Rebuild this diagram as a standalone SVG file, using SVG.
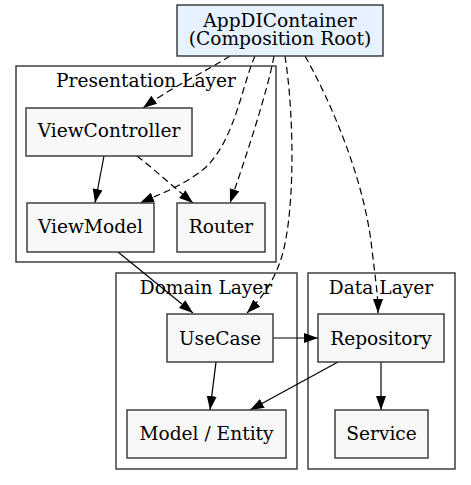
<svg xmlns="http://www.w3.org/2000/svg" width="471" height="485" viewBox="0 0 471 485">
<style>
.cl{fill:#ffffff;stroke:#333333;stroke-width:1.4}
.nd{fill:#f8f8f8;stroke:#333333;stroke-width:1.4}
.root{fill:#e6f2ff;stroke:#333333;stroke-width:1.4}
text{font-family:"DejaVu Serif","Liberation Serif",serif;font-size:18.6px;fill:#000;text-anchor:middle}
.e{fill:none;stroke:#000;stroke-width:1.2}
.d{stroke-dasharray:7,4}
</style>
<defs>
<marker id="ah" markerUnits="userSpaceOnUse" markerWidth="15" markerHeight="11" refX="14" refY="5" orient="auto">
<path d="M0,0 L14,5 L0,10 z" fill="#000"/>
</marker>
</defs>
<g id="cluster-presentation">
<rect class="cl" x="16" y="66" width="260" height="196"/>
<text x="146" y="87">Presentation Layer</text>
</g>
<g id="cluster-domain">
<rect class="cl" x="116" y="273" width="181" height="196"/>
<text x="206" y="294">Domain Layer</text>
</g>
<g id="cluster-data">
<rect class="cl" x="308" y="273" width="147" height="196"/>
<text x="381" y="294">Data Layer</text>
</g>
<g id="connectors">
<path class="e d" marker-end="url(#ah)" d="M230,56 C205,72 170,88 143,108"/>
<path class="e d" marker-end="url(#ah)" d="M255,56 C242,85 235,140 205,168 C185,185 160,194 140,203"/>
<path class="e d" marker-end="url(#ah)" d="M274,56 C268,90 245,160 230,203"/>
<path class="e d" marker-end="url(#ah)" d="M285,56 C295,120 295,220 280,262 C273,282 262,298 247,313"/>
<path class="e d" marker-end="url(#ah)" d="M305,56 C330,100 365,180 372,250 C375,275 378,295 378,313"/>
<path class="e" marker-end="url(#ah)" d="M104,156 L95,203"/>
<path class="e d" marker-end="url(#ah)" d="M137,156 C155,170 175,188 193,203"/>
<path class="e" marker-end="url(#ah)" d="M118,252 L193,313"/>
<path class="e" marker-end="url(#ah)" d="M273,338 L318,338"/>
<path class="e" marker-end="url(#ah)" d="M216,362 L210,410"/>
<path class="e" marker-end="url(#ah)" d="M338,362 L250,410"/>
<path class="e" marker-end="url(#ah)" d="M381,362 L381,410"/>
</g>
<g id="AppDIContainer">
<rect class="root" x="177" y="5" width="206" height="51"/>
<text x="280" y="26.5">AppDIContainer</text>
<text x="280" y="44.5">(Composition Root)</text>
</g>
<g id="ViewController">
<rect class="nd" x="26" y="108" width="166" height="48"/>
<text x="109" y="137">ViewController</text>
</g>
<g id="ViewModel">
<rect class="nd" x="27" y="203" width="127" height="49"/>
<text x="90.5" y="233">ViewModel</text>
</g>
<g id="Router">
<rect class="nd" x="177" y="203" width="88" height="49"/>
<text x="221" y="233">Router</text>
</g>
<g id="UseCase">
<rect class="nd" x="167" y="314" width="106" height="48"/>
<text x="220" y="345">UseCase</text>
</g>
<g id="Repository">
<rect class="nd" x="318" y="314" width="126" height="48"/>
<text x="381" y="345">Repository</text>
</g>
<g id="ModelEntity">
<rect class="nd" x="127" y="410" width="159" height="48"/>
<text x="206.5" y="440">Model / Entity</text>
</g>
<g id="Service">
<rect class="nd" x="335" y="410" width="93" height="48"/>
<text x="381.5" y="440">Service</text>
</g>
</svg>
